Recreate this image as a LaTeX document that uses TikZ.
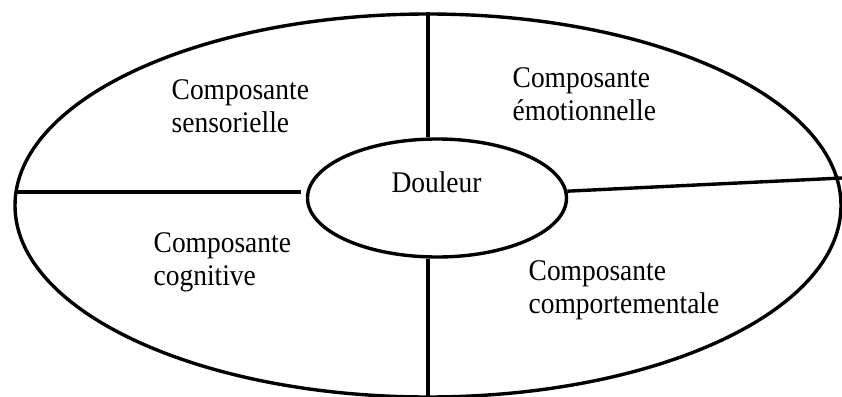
\documentclass[tikz,border=0pt]{standalone}
\usepackage{fontspec}
\setmainfont{Liberation Serif}
\newfontfamily\compfont[FakeStretch=0.915]{Liberation Serif}
\usetikzlibrary{shapes.geometric}

\begin{document}
\begin{tikzpicture}[x=1pt, y=-1pt, line width=3.4pt,
    oval/.style = {draw, ellipse, inner sep=0pt},
    comp/.style = {align=left, anchor=base west, inner sep=0pt, font=\compfont\fontsize{30}{33}\selectfont}]
    \useasboundingbox (0,0) rectangle (842,396);

    \node[oval, minimum width=826pt, minimum height=383pt] (outer) at (428,205.5) {};
    \node[oval, minimum width=259pt, minimum height=118pt] (core) at (437,198) {};
    \node[comp, anchor=base] (douleur) at (436.5,192) {Douleur};

    \coordinate (wl) at (16,192);
    \coordinate (wr) at (301,192);
    \coordinate (er) at (842,178);

    \draw (outer.north) -- (outer.north |- core.north);
    \draw (outer.south) -- (outer.south |- core.south);
    \draw (wl) -- (wr);
    \draw (core.3) -- (er);

    \node[comp] (sens) at (170,132) {Composante\\sensorielle};
    \node[comp] (emo) at (511,120) {Composante\\émotionnelle};
    \node[comp] (cogn) at (152,285) {Composante\\cognitive};
    \node[comp] (behav) at (527,313) {Composante\\comportementale};
\end{tikzpicture}
\end{document}
